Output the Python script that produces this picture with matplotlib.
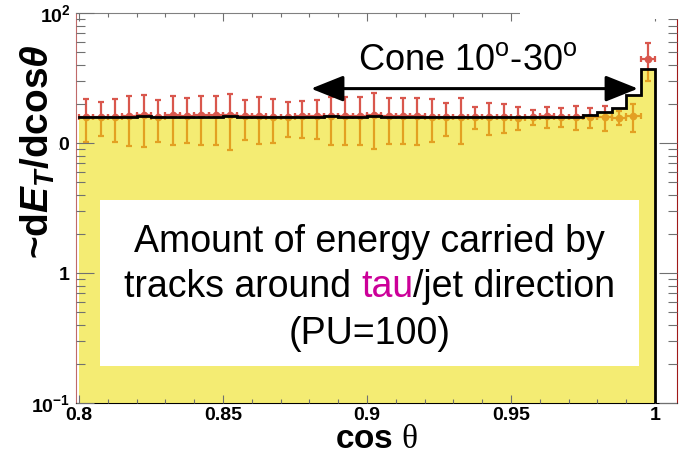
import numpy as np
import matplotlib.pyplot as plt
from matplotlib.patches import Rectangle
from matplotlib.ticker import MultipleLocator, NullFormatter, LogLocator

plt.rcParams['font.family'] = ['Liberation Sans', 'DejaVu Sans']
plt.rcParams['mathtext.fontset'] = 'custom'
plt.rcParams['mathtext.rm'] = 'Liberation Sans'
plt.rcParams['mathtext.it'] = 'Liberation Sans:italic'
plt.rcParams['mathtext.bf'] = 'Liberation Sans:bold'
plt.rcParams['mathtext.bfit'] = 'Liberation Sans:bold:italic'
plt.rcParams['mathtext.sf'] = 'Liberation Serif'

# 40 bins in cos(theta), 0.8 -> 1.0
edges = np.linspace(0.8, 1.0, 41)
centers = 0.5 * (edges[:-1] + edges[1:])

# expected dE_T per bin (histogram)
hist = [15.9, 15.9, 15.9, 15.9, 16.0, 15.9, 15.9, 15.9, 15.9, 15.9,
        16.0, 15.8, 15.9, 15.9, 15.9, 15.9, 15.9, 16.0, 15.9, 15.9,
        16.0, 15.9, 15.9, 15.9, 15.9, 15.9, 15.9, 15.9, 15.9, 15.9,
        15.9, 15.9, 15.9, 15.9, 15.9, 16.4, 17.4, 18.7, 23.4, 36.9]

# measured points and errors
data = [15.95, 15.95, 15.95, 16.2, 16.3, 15.8, 16.3, 16.1, 16.3, 16.3,
        16.3, 16.0, 16.15, 15.9, 15.9, 16.0, 16.05, 16.1, 16.1, 16.2,
        16.55, 16.0, 16.0, 16.0, 15.95, 15.9, 15.95, 15.8, 15.95, 15.85,
        15.7, 15.9, 16.0, 15.9, 15.95, 15.85, 15.9, 15.7, 16.0, 44.3]
err = [5.75, 4.65, 5.75, 6.75, 7.05, 5.6, 6.7, 6.1, 6.7, 6.7,
       7.4, 5.5, 6.3, 5.9, 4.75, 5.0, 5.35, 6.4, 6.4, 6.5,
       7.55, 6.1, 6.25, 6.3, 5.85, 4.5, 6.15, 3.0, 4.45, 3.95,
       3.1, 2.15, 3.0, 2.6, 3.35, 2.85, 3.5, 1.9, 3.8, 14.5]

yticks = [0.1, 1, 10, 100]
ytick_labels = [r'$\mathbf{10^{-1}}$', r'$\mathbf{1}$', r'$\mathbf{10}$', r'$\mathbf{10^{2}}$']
xticks = [0.8, 0.85, 0.9, 0.95, 1.0]
xtick_labels = ['0.8', '0.85', '0.9', '0.95', '1']

red = '#d9574d'
yellow = (236 / 255, 222 / 255, 0.0)

fig = plt.figure(figsize=(6.83, 4.62), dpi=100)
ax = fig.add_axes([76 / 683, 59 / 462, 601 / 683, 390 / 462])
ax.set_yscale('log')
ax.set_xlim(0.79896, 1.00764)
ax.set_ylim(0.1, 100)

ax.errorbar(centers, data, yerr=err, xerr=0.0025, fmt='o', ms=4.5,
            color=red, ecolor=red, elinewidth=1.6, capsize=2.5,
            capthick=1.6, zorder=2)

# translucent yellow fill over points and frame
ax.stairs(hist, edges, baseline=0.05, fill=True, facecolor=yellow,
          alpha=0.55, lw=0, zorder=3)

xs = np.append(np.repeat(edges, 2)[1:-1], edges[-1])
ys = np.append(np.repeat(hist, 2), 0.05)
ax.plot(xs, ys, color='black', lw=2.0, zorder=5, solid_joinstyle='miter')

ax.set_xticks(xticks, labels=xtick_labels)
ax.xaxis.set_minor_locator(MultipleLocator(0.01))
ax.set_yticks(yticks, labels=ytick_labels)
ax.yaxis.set_minor_locator(LogLocator(base=10, subs=np.arange(2, 10)))
ax.yaxis.set_minor_formatter(NullFormatter())
for lab in ax.get_xticklabels():
    lab.set_fontweight('bold')
ax.tick_params(which='both', direction='in', top=True, right=True,
               color='#707070', width=0.8, labelsize=14)
ax.tick_params(axis='x', which='major', length=6, pad=3)
ax.tick_params(axis='x', which='minor', length=3)
ax.tick_params(axis='y', which='major', length=13, pad=4)
ax.tick_params(axis='y', which='minor', length=6.5)
ax.xaxis.set_zorder(4)
ax.yaxis.set_zorder(4)

ax.spines['left'].set_color('#c06a6a')
ax.spines['top'].set_color('#808080')
ax.spines['right'].set_color('#a01818')
ax.spines['bottom'].set_color('black')

ax.set_xlabel(r'$\mathbf{cos}\ \mathsf{\theta}$', fontsize=24, labelpad=0)
ax.set_ylabel(r'~d$\mathbfit{E_T}$/dcos$\mathbfit{\theta}$', fontsize=28,
              fontweight='bold',
              bbox=dict(facecolor='white', edgecolor='none', pad=2))
ax.yaxis.label.set_verticalalignment('center')
ax.yaxis.set_label_coords(-0.064, 0.644)

# cone annotation
ax.annotate('', xy=(0.88056, 26.2), xytext=(0.99410, 26.2),
            arrowprops=dict(arrowstyle='<|-|>,head_length=1.0,head_width=0.4',
                            lw=2.2, color='black', shrinkA=0, shrinkB=0,
                            mutation_scale=20), zorder=7)
ax.text(0.9349, 36.4, r'Cone 10$^{\mathrm{o}}$-30$^{\mathrm{o}}$', ha='center',
        va='baseline', fontsize=26, zorder=7)

# text panel
ax.add_patch(Rectangle((0.040, 0.095), 0.897, 0.4255, transform=ax.transAxes,
                       facecolor='white', edgecolor='none', zorder=6))
cx = 0.488
fs = 27
ax.text(cx, 0.387, 'Amount of energy carried by', transform=ax.transAxes,
        ha='center', va='baseline', fontsize=fs, zorder=7)
ax.text(cx, 0.151, '(PU=100)', transform=ax.transAxes,
        ha='center', va='baseline', fontsize=fs, zorder=7)
t1 = ax.text(0, 0.272, 'tracks around ', transform=ax.transAxes,
             ha='left', va='baseline', fontsize=fs, zorder=7)
t2 = ax.annotate('tau', xy=(1, 0), xycoords=t1, ha='left', va='bottom',
                 fontsize=fs, color='#cc0099', zorder=7)
t3 = ax.annotate('/jet direction', xy=(1, 0), xycoords=t2, ha='left',
                 va='bottom', fontsize=fs, zorder=7)
fig.canvas.draw()
r = fig.canvas.get_renderer()
w = sum(t.get_window_extent(r).width for t in (t1, t2, t3))
axbox = ax.get_window_extent(r)
t1.set_x(cx - 0.5 * w / axbox.width)

# blank strip over the upper right corner of the frame
fig.patches.append(Rectangle((520 / 683, 443 / 462), 163 / 683, 19 / 462,
                             transform=fig.transFigure, facecolor='white',
                             edgecolor='none', zorder=10))

fig.savefig('out.png', dpi=100)
